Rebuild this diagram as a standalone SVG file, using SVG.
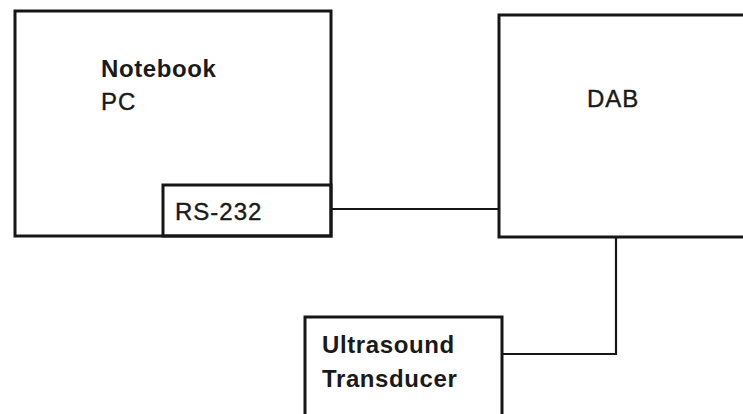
<svg xmlns="http://www.w3.org/2000/svg" width="743" height="414" viewBox="0 0 743 414">
<style>
.box{fill:none;stroke:#161616;stroke-width:3}
.wire{fill:none;stroke:#161616;stroke-width:2.2}
.lb{font-family:"Liberation Sans",Arial,sans-serif;font-weight:bold;font-size:24px;letter-spacing:0.6px;fill:#1a1a1a}
.lr{font-family:"Liberation Sans",Arial,sans-serif;font-size:24px;letter-spacing:1px;fill:#1a1a1a;stroke:#1a1a1a;stroke-width:0.4}
</style>
<rect width="743" height="414" fill="#fff"/>
<g id="notebook">
<rect class="box" x="15" y="11" width="316" height="225"/>
<text class="lb" x="101" y="77">Notebook</text>
<text class="lr" x="101" y="110">PC</text>
</g>
<g id="rs232">
<rect class="box" x="163" y="185" width="168" height="51"/>
<text class="lr" x="175" y="220">RS-232</text>
</g>
<g id="dab">
<rect class="box" x="499" y="15" width="270" height="222"/>
<text class="lr" x="587" y="107">DAB</text>
</g>
<g id="ultrasound">
<rect class="box" x="305" y="317" width="197" height="120"/>
<text class="lb" x="322" y="353">Ultrasound</text>
<text class="lb" x="322" y="387">Transducer</text>
</g>
<g id="connectors">
<line class="wire" x1="332" y1="209" x2="498" y2="209"/>
<polyline class="wire" points="616,237 616,354 503,354"/>
</g>
</svg>
